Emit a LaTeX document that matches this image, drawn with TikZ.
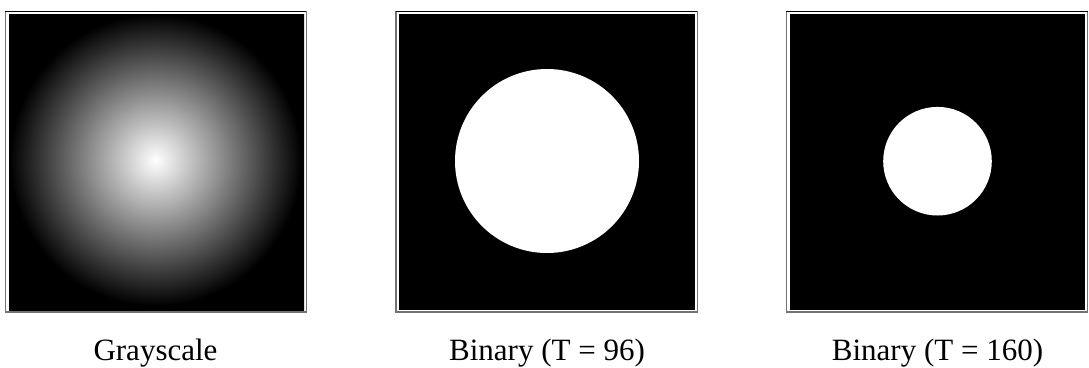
\documentclass[tikz,border=0pt]{standalone}
\usepackage{fontspec}
\setmainfont{Liberation Serif}
\pgfdeclareradialshading{glowA}{\pgfpoint{0bp}{0bp}}{color(0bp)=(white); color(146bp)=(black); color(230bp)=(black)}
\begin{document}
\begin{tikzpicture}[x=1bp,y=-1bp,
  frame/.style={draw=black!55, line width=1.5bp},
  frametop/.style={draw=black, line width=1.5bp},
  imgbg/.style={fill=black},
  blob/.style={fill=white},
  caption/.style={font=\fontsize{31bp}{36bp}\selectfont, anchor=base, inner sep=0pt}]
\useasboundingbox (0,0) rectangle (1089,367);
% panel 1
\draw[frame] (5.3,11.3) rectangle (306.3,312.2);
\draw[frametop] (5.3,11.3) -- (306.3,11.3);
\fill[imgbg] (9,14) rectangle (304,310);
\begin{scope}
\clip (9,14) rectangle (304,310);
\node[inner sep=0pt] (glow) at (155.5,160) {\pgfuseshading{glowA}};
\end{scope}
% panel 2
\draw[frame] (395.8,11.3) rectangle (697.3,312.2);
\draw[frametop] (395.8,11.3) -- (697.3,11.3);
\fill[imgbg] (399,14) rectangle (695,310);
\fill[blob] (547,161) circle (92);
% panel 3
\draw[frame] (786.3,11.3) rectangle (1087.5,312.2);
\draw[frametop] (786.3,11.3) -- (1087.5,11.3);
\fill[imgbg] (790,14) rectangle (1085,310);
\fill[blob] (937.5,161.2) circle (54.3);
% captions
\node[caption] (c1) at (155.5,360) {Grayscale};
\node[caption] (c2) at (547,360) {Binary (T = 96)};
\node[caption] (c3) at (937.5,360) {Binary (T = 160)};
\end{tikzpicture}
\end{document}
